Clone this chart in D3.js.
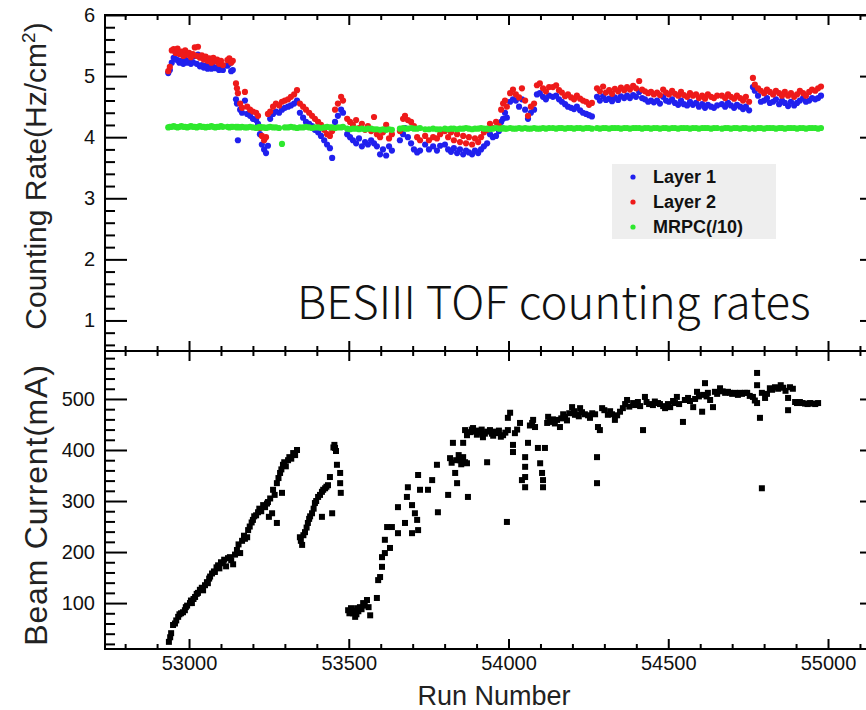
<!DOCTYPE html>
<html>
<head>
<meta charset="utf-8">
<script src="https://cdn.jsdelivr.net/npm/d3@7"></script>
<style>
  body { margin: 0; background: #fff; }
  text { font-family: "Liberation Sans", Arial, Helvetica, sans-serif; }
</style>
</head>
<body>
<div id="chart"></div>
<script>
// run numbers shared by the three rate series
var runs = [
  52935,52940,52946,52952,52958,52964,52970,52976,52982,52988,
  52994,53000,53006,53012,53018,53024,53028,53034,53040,53046,
  53052,53058,53064,53070,53076,53082,53088,53094,53100,53106,
  53120,53126,53132,53137,
  53147,53150,53153,53160,53166,53175,53182,53191,53200,53210,
  53216,53222,53228,53235,53241,53247,53254,53263,53272,53282,
  53291,53300,53310,53319,53329,53338,53347,53357,53366,53376,
  53385,53394,53404,53413,53423,53432,53441,53448,53457,53466,
  53476,53482,
  53495,53504,53513,53523,53532,53541,53551,53560,53570,53579,
  53588,53598,53607,53617,53626,53635,
  53660,53670,53676,53685,53695,53704,53714,53723,
  53739,53751,53764,53776,53786,
  53801,53811,53820,53829,53839,53848,53858,53867,53876,53886,
  53895,53905,53914,53923,53933,53942,53951,53961,53970,53977,
  53983,53989,53995,54005,54014,54023,54033,54042,54052,54061,
  54070,54080,54089,54098,54108,54117,54127,
  54139,54149,54158,54167,54177,54186,54196,54205,54214,54224,
  54233,54243,54252,54261,
  54277,54286,54296,54305,54315,54324,54333,54343,54352,54362,
  54371,54380,54390,54399,54409,54418,54427,54437,54446,54455,
  54465,54474,
  54484,54493,54502,54512,54521,54531,54540,54549,54559,54568,
  54577,54587,54596,54606,54615,54624,54634,54643,54653,
  54668,54678,54687,54696,54706,54715,54725,54734,54743,54753,
  54765,54771,54781,54790,54800,54809,54818,54828,54837,54847,
  54856,54865,54875,54884,54894,54903,54912,54922,54931,54941,
  54950,54960,54969,54978
];

var layer1 = [
  5.05,5.10,5.22,5.30,5.28,5.26,5.22,5.25,5.20,5.27,
  5.22,5.24,5.20,5.23,5.33,5.20,5.35,5.16,5.18,5.14,
  5.17,5.12,5.16,5.12,5.15,5.13,5.14,5.10,5.12,5.10,
  5.17,5.20,5.08,5.10,
  4.62,4.55,3.95,4.45,4.40,4.60,4.38,4.35,4.30,4.28,
  4.22,4.05,3.88,3.80,3.74,3.86,4.30,4.38,4.42,4.40,
  4.45,4.48,4.50,4.52,4.55,4.60,4.40,4.32,4.25,4.22,
  4.18,4.12,4.08,4.02,3.95,3.88,3.82,3.66,4.25,4.35,
  4.45,4.40,
  4.05,4.00,3.95,3.90,3.98,3.85,3.92,3.88,3.95,3.90,
  3.85,3.72,3.80,3.70,3.85,3.78,
  3.95,4.05,4.15,4.00,3.90,3.80,3.75,3.78,
  3.88,3.80,3.85,3.78,3.86,
  3.88,3.80,3.76,3.82,3.74,3.80,3.72,3.78,3.75,3.72,
  3.78,3.74,3.80,3.85,3.90,4.05,4.00,4.02,4.10,4.25,
  4.30,4.40,4.32,4.58,4.62,4.60,4.50,4.62,4.45,4.30,
  4.40,4.45,4.70,4.72,4.66,4.62,4.68,
  4.66,4.68,4.62,4.58,4.54,4.50,4.48,4.46,4.50,4.44,
  4.40,4.38,4.36,4.34,
  4.66,4.60,4.67,4.61,4.63,4.59,4.65,4.61,4.67,4.64,
  4.68,4.64,4.69,4.66,4.74,4.64,4.62,4.58,4.60,4.57,
  4.60,4.55,
  4.66,4.60,4.58,4.62,4.56,4.53,4.60,4.54,4.52,4.58,
  4.53,4.56,4.50,4.54,4.48,4.53,4.50,4.48,4.52,
  4.54,4.50,4.56,4.52,4.48,4.53,4.50,4.46,4.50,4.44,
  4.82,4.76,4.68,4.58,4.60,4.64,4.56,4.58,4.62,4.54,
  4.60,4.56,4.51,4.58,4.52,4.56,4.60,4.64,4.58,4.60,
  4.64,4.62,4.64,4.68
];

var layer2 = [
  5.08,5.15,5.42,5.44,5.38,5.45,5.36,5.40,5.33,5.42,
  5.35,5.38,5.31,5.36,5.47,5.33,5.48,5.30,5.34,5.27,
  5.32,5.25,5.29,5.22,5.30,5.24,5.27,5.20,5.25,5.18,
  5.26,5.29,5.22,5.25,
  4.88,4.80,4.72,4.55,4.48,4.74,4.50,4.45,4.42,4.40,
  4.35,4.15,4.02,3.95,4.00,4.38,4.42,4.50,4.55,4.52,
  4.58,4.60,4.62,4.66,4.70,4.77,4.55,4.50,4.45,4.40,
  4.35,4.30,4.25,4.20,4.12,4.05,4.02,4.10,4.45,4.55,
  4.66,4.60,
  4.30,4.25,4.20,4.28,4.15,4.22,4.12,4.18,4.10,4.33,
  4.05,4.00,4.08,4.20,3.98,4.05,
  4.10,4.30,4.35,4.28,4.25,4.18,4.00,3.95,
  4.02,3.95,4.00,3.98,4.05,
  4.10,4.00,4.08,3.95,4.05,3.92,4.02,3.90,4.00,3.88,
  3.98,3.92,4.00,4.08,4.12,4.22,4.15,4.25,4.18,4.45,
  4.55,4.60,4.50,4.72,4.78,4.70,4.65,4.80,4.60,4.35,
  4.50,4.55,4.85,4.88,4.80,4.75,4.82,
  4.82,4.85,4.77,4.73,4.67,4.70,4.65,4.62,4.68,4.63,
  4.60,4.58,4.53,4.56,
  4.80,4.75,4.83,4.73,4.77,4.71,4.79,4.75,4.81,4.77,
  4.82,4.78,4.84,4.80,4.92,4.78,4.75,4.72,4.74,4.70,
  4.73,4.69,
  4.78,4.73,4.70,4.76,4.71,4.68,4.74,4.69,4.66,4.72,
  4.68,4.70,4.64,4.68,4.63,4.70,4.66,4.64,4.68,
  4.68,4.64,4.70,4.66,4.63,4.68,4.64,4.60,4.66,4.58,
  4.97,4.86,4.80,4.76,4.72,4.78,4.74,4.70,4.76,4.72,
  4.68,4.74,4.68,4.72,4.66,4.70,4.76,4.72,4.68,4.74,
  4.78,4.76,4.80,4.83
];

var mrpc = [
  4.16,4.17,4.17,4.18,4.17,4.16,4.17,4.18,4.17,4.17,
  4.16,4.17,4.18,4.17,4.17,4.16,4.17,4.18,4.17,4.17,
  4.16,4.17,4.17,4.18,4.17,4.16,4.17,4.17,4.18,4.17,
  4.17,4.16,4.17,4.17,
  4.17,4.16,4.17,4.16,4.17,4.16,4.16,4.17,4.16,4.15,
  4.16,4.17,4.16,4.16,4.15,4.16,4.17,4.16,4.16,4.15,
  3.89,4.16,4.16,4.17,4.16,4.15,4.16,4.16,4.17,4.16,
  4.15,4.16,4.16,4.15,4.16,4.17,4.16,4.16,4.15,4.16,
  4.16,4.17,
  4.14,4.13,4.14,4.14,4.13,4.14,4.13,4.14,4.14,4.13,
  4.13,4.12,4.13,4.12,4.13,4.12,
  4.14,4.15,4.14,4.14,4.15,4.14,4.14,4.15,
  4.13,4.13,4.14,4.13,4.13,
  4.14,4.13,4.14,4.14,4.13,4.14,4.14,4.15,4.14,4.13,
  4.14,4.14,4.15,4.14,4.14,4.13,4.14,4.15,4.14,4.14,
  4.15,4.14,4.14,4.15,4.14,4.14,4.15,4.14,4.15,4.14,
  4.14,4.15,4.14,4.14,4.15,4.14,4.15,
  4.15,4.14,4.15,4.15,4.14,4.15,4.15,4.14,4.15,4.15,
  4.14,4.15,4.15,4.14,
  4.15,4.14,4.15,4.15,4.14,4.15,4.15,4.15,4.14,4.15,
  4.15,4.14,4.15,4.15,4.15,4.14,4.15,4.15,4.14,4.15,
  4.15,4.14,
  4.15,4.15,4.14,4.15,4.15,4.14,4.15,4.15,4.15,4.14,
  4.15,4.15,4.14,4.15,4.15,4.15,4.14,4.15,4.15,
  4.14,4.15,4.15,4.14,4.15,4.15,4.14,4.15,4.15,4.14,
  4.15,4.14,4.15,4.15,4.14,4.15,4.15,4.15,4.14,4.15,
  4.15,4.14,4.15,4.15,4.15,4.14,4.15,4.15,4.14,4.15,
  4.15,4.15,4.14,4.15
];

// beam current: [run, mA]
var beamCurrent = [
  [52937,24],[52941,33],[52944,41],[52950,57],[52956,60],[52960,66],[52966,73],[52970,78],
  [52975,80],[52981,82],[52987,86],[52990,92],[52994,95],[53003,100],[53006,105],[53009,100],
  [53014,108],[53019,112],[53024,118],[53028,120],[53034,126],[53040,130],[53044,125],[53050,135],
  [53056,141],[53059,139],[53063,148],[53066,152],[53072,158],[53078,162],[53081,161],[53086,170],
  [53091,174],[53095,168],[53100,180],[53106,178],[53110,185],[53116,172],[53122,188],[53128,190],
  [53132,184],[53138,176],[53144,195],[53150,204],[53155,215],[53160,198],[53166,222],[53172,232],
  [53175,226],[53182,229],[53185,243],[53190,250],[53196,258],[53200,263],[53204,270],[53210,272],
  [53216,278],[53220,285],[53226,280],[53232,292],[53238,288],[53244,295],[53247,298],[53250,269],
  [53254,305],[53260,276],[53263,322],[53268,312],[53275,257],[53275,335],[53280,345],[53285,355],
  [53289,362],[53291,316],[53294,371],[53298,376],[53303,368],[53310,380],[53314,386],[53320,383],
  [53326,394],[53332,390],[53338,400],
  [53347,229],[53350,222],[53354,214],[53358,233],[53363,239],[53368,248],[53372,257],[53376,265],
  [53379,270],[53385,276],[53390,285],[53394,296],[53398,300],[53404,308],[53410,312],[53416,318],
  [53420,322],[53416,269],[53426,325],[53430,328],[53435,331],[53441,347],[53448,276],[53452,405],
  [53455,410],[53457,404],[53460,398],[53463,371],[53473,355],[53473,335],[53475,316],
  [53498,86],[53502,80],[53507,90],[53513,80],[53516,85],[53520,73],[53524,78],[53526,90],
  [53530,84],[53535,92],[53540,88],[53545,100],[53550,95],[53557,106],[53562,92],[53567,76],
  [53588,110],[53592,145],[53598,151],[53604,171],[53604,190],[53613,198],[53613,224],[53620,249],
  [53629,208],[53635,249],[53654,237],[53654,288],[53676,257],[53682,308],[53685,327],[53698,292],
  [53698,237],[53707,276],[53714,263],[53717,243],[53717,351],[53723,322],[53748,322],[53761,341],
  [53776,371],[53779,278],[53811,312],[53817,384],[53822,375],[53826,414],[53833,355],[53836,380],
  [53839,335],[53844,390],[53848,380],[53852,372],[53858,414],[53858,386],[53864,376],[53870,374],
  [53873,308],[53864,439],[53870,429],[53880,435],[53885,440],[53889,443],[53895,436],[53901,430],
  [53906,438],[53911,434],[53916,440],[53920,425],[53926,432],[53933,376],[53933,436],[53942,439],
  [53948,432],[53952,428],[53958,436],[53964,433],[53970,438],[53976,426],[53983,429],[53990,434],
  [53995,259],[53998,439],[53998,463],[54005,473],[54014,410],[54014,396],[54020,433],[54027,440],
  [54036,453],[54042,341],[54052,386],[54052,367],[54052,347],[54052,327],[54061,414],[54067,448],
  [54074,453],[54077,459],[54083,445],[54092,404],[54099,374],[54105,355],[54108,341],[54108,327],
  [54114,404],[54121,453],[54124,465],[54130,455],[54139,460],[54145,452],[54152,459],[54161,445],
  [54165,462],[54171,470],[54177,465],[54183,458],[54190,472],[54199,484],[54205,476],[54208,469],
  [54214,470],[54220,466],[54224,482],[54230,474],[54239,470],[54249,468],[54255,463],[54262,472],
  [54271,470],[54277,386],[54277,335],[54280,445],[54286,439],[54293,482],[54300,478],[54311,469],
  [54318,476],[54324,470],[54333,459],[54340,468],[54349,475],[54358,482],[54365,490],[54371,498],
  [54378,485],[54390,492],[54396,488],[54405,494],[54412,486],[54421,439],[54427,504],[54432,494],
  [54440,490],[54452,488],[54458,495],[54468,492],[54474,490],[54484,486],[54490,482],[54499,490],
  [54506,484],[54515,496],[54521,492],[54527,504],[54534,490],[54546,455],[54552,498],[54562,502],
  [54568,496],[54578,484],[54584,500],[54590,514],[54596,505],[54606,475],[54609,508],[54615,531],
  [54620,505],[54624,512],[54631,498],[54640,484],[54646,514],[54653,510],[54662,521],[54670,515],
  [54678,512],[54687,514],[54693,512],[54700,510],[54709,512],[54718,508],[54725,512],[54731,510],
  [54740,512],[54747,512],[54755,506],[54765,504],[54771,497],[54778,551],[54778,527],[54778,492],
  [54787,463],[54793,325],[54793,512],[54803,502],[54809,510],[54818,521],[54825,518],[54834,523],
  [54844,520],[54852,527],[54860,522],[54867,516],[54875,502],[54875,478],[54881,523],[54890,520],
  [54897,494],[54903,492],[54912,494],[54920,492],[54928,491],[54936,490],[54944,492],[54952,491],
  [54960,490],[54969,492]
];

var legendLabels = ["Layer 1", "Layer 2", "MRPC(/10)"];
var colors = ["#2020ee", "#ee1a1a", "#2ee82e"];

var width = 866, height = 710;
var left = 105, right = 882;
var top0 = 15, mid = 351, bottom = 649;

var svg = d3.select("#chart").append("svg")
    .attr("width", width)
    .attr("height", height);

var x = d3.scaleLinear().domain([52737, 55169]).range([left, right]);
var yRate = d3.scaleLinear().domain([0.5, 6]).range([mid, top0]);
var yBeam = d3.scaleLinear().domain([10, 594]).range([bottom, mid]);

var xMajor = [53000, 53500, 54000, 54500, 55000];
var xMinor = d3.range(52800, 55170, 100).filter(function(d) { return d % 500 != 0; });
var rateMajor = [1, 2, 3, 4, 5, 6];
var rateMinor = d3.range(0.6, 6, 0.2).filter(function(d) { return Math.abs(d - Math.round(d)) > 0.01; });
var beamMajor = [100, 200, 300, 400, 500];
var beamMinor = d3.range(20, 594, 20).filter(function(d) { return d % 100 != 0; });

function addAxis(gen, tx, ty, values, size, labels, pad) {
  var g = svg.append("g")
      .attr("transform", "translate(" + tx + "," + ty + ")")
      .call(gen.tickValues(values).tickSizeInner(-size).tickSizeOuter(0)
        .tickPadding(pad || 0)
        .tickFormat(labels ? d3.format("d") : ""));
  g.select(".domain").remove();
  g.selectAll(".tick line").attr("stroke", "#000").attr("stroke-width", 2);
  g.selectAll(".tick text")
      .attr("font-size", "20px")
      .attr("fill", "#111")
      .style("font-family", "'Liberation Sans', Arial, sans-serif");
  return g;
}

// top panel axes
addAxis(d3.axisLeft(yRate), left, 0, rateMajor, 22, true, 10);
addAxis(d3.axisLeft(yRate), left, 0, rateMinor, 10, false);
addAxis(d3.axisRight(yRate), right, 0, rateMajor, 22, false);
addAxis(d3.axisRight(yRate), right, 0, rateMinor, 10, false);
addAxis(d3.axisTop(x), 0, top0, xMajor, 10, false);
addAxis(d3.axisTop(x), 0, top0, xMinor, 5, false);
addAxis(d3.axisBottom(x), 0, mid, xMajor, 10, false);
addAxis(d3.axisBottom(x), 0, mid, xMinor, 5, false);

// bottom panel axes
addAxis(d3.axisLeft(yBeam), left, 0, beamMajor, 22, true, 10);
addAxis(d3.axisLeft(yBeam), left, 0, beamMinor, 10, false);
addAxis(d3.axisRight(yBeam), right, 0, beamMajor, 22, false);
addAxis(d3.axisRight(yBeam), right, 0, beamMinor, 10, false);
addAxis(d3.axisTop(x), 0, mid, xMajor, 10, false);
addAxis(d3.axisTop(x), 0, mid, xMinor, 5, false);
addAxis(d3.axisBottom(x), 0, bottom, xMajor, 10, true, 7);
addAxis(d3.axisBottom(x), 0, bottom, xMinor, 5, false);

// frames
svg.append("rect")
    .attr("x", left).attr("y", top0)
    .attr("width", right - left).attr("height", mid - top0)
    .attr("fill", "none").attr("stroke", "#000").attr("stroke-width", 2);
svg.append("rect")
    .attr("x", left).attr("y", mid)
    .attr("width", right - left).attr("height", bottom - mid)
    .attr("fill", "none").attr("stroke", "#000").attr("stroke-width", 2);

// rate points
var series = [layer1, layer2, mrpc];
series.forEach(function(vals, k) {
  svg.append("g").selectAll("circle")
      .data(runs)
    .enter().append("circle")
      .attr("cx", function(d) { return x(d); })
      .attr("cy", function(d, i) { return yRate(vals[i]); })
      .attr("r", 3.1)
      .attr("fill", colors[k]);
});

// beam points
svg.append("g").selectAll("rect")
    .data(beamCurrent)
  .enter().append("rect")
    .attr("x", function(d) { return x(d[0]) - 3; })
    .attr("y", function(d) { return yBeam(d[1]) - 3; })
    .attr("width", 6)
    .attr("height", 6)
    .attr("fill", "#000");

// legend
var lg = svg.append("g").attr("transform", "translate(612,164)");
lg.append("rect").attr("width", 164).attr("height", 75).attr("fill", "#eeeeee");
legendLabels.forEach(function(t, k) {
  lg.append("circle").attr("cx", 21).attr("cy", 13 + k * 25).attr("r", 2.6).attr("fill", colors[k]);
  lg.append("text").attr("x", 41).attr("y", 19 + k * 25)
      .attr("font-size", "18px").attr("font-weight", "bold").attr("fill", "#111")
      .text(t);
});

// title inside top panel
svg.append("text")
    .attr("x", 297).attr("y", 319)
    .attr("font-size", "45.5px")
    .attr("font-weight", 300)
    .style("font-family", "'Noto Sans CJK SC', 'Noto Sans', sans-serif")
    .attr("fill", "#111")
    .text("BESIII TOF counting rates");

// axis titles
var yt = svg.append("text")
    .attr("transform", "translate(46,176) rotate(-90)")
    .attr("text-anchor", "middle")
    .attr("font-size", "30px")
    .attr("fill", "#222");
yt.append("tspan").text("Counting Rate(Hz/cm");
yt.append("tspan").attr("dy", -11).attr("font-size", "19px").text("2");
yt.append("tspan").attr("dy", 11).text(")");

svg.append("text")
    .attr("transform", "translate(47,505) rotate(-90)")
    .attr("text-anchor", "middle")
    .attr("font-size", "32px")
    .attr("letter-spacing", "0.8px")
    .attr("fill", "#222")
    .text("Beam Current(mA)");

svg.append("text")
    .attr("x", 494).attr("y", 705)
    .attr("text-anchor", "middle")
    .attr("font-size", "27px")
    .attr("fill", "#222")
    .text("Run Number");
</script>
</body>
</html>
